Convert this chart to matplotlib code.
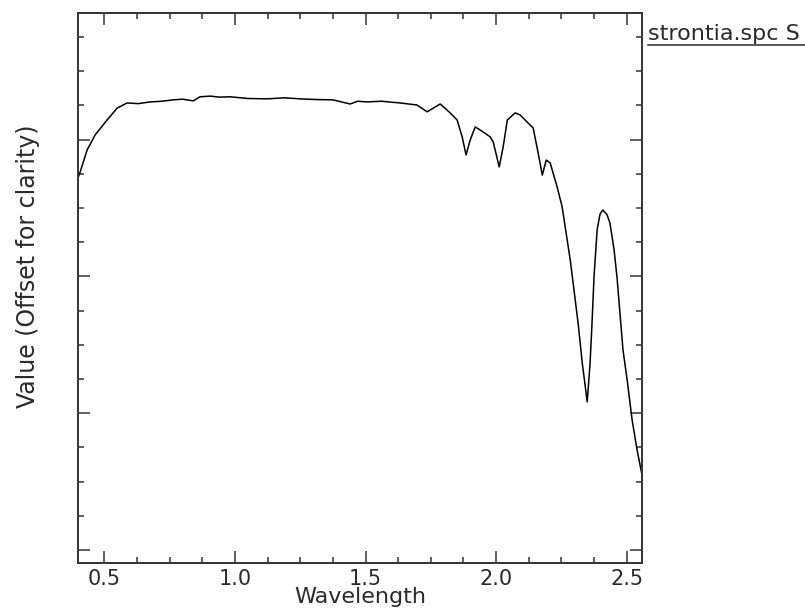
import matplotlib
matplotlib.use("Agg")
import matplotlib.pyplot as plt
from matplotlib.lines import Line2D
from matplotlib.ticker import MultipleLocator, NullFormatter, FormatStrFormatter

# spectrum (wavelength, offset value)
wavelength = [
    0.400, 0.407, 0.434, 0.464, 0.510, 0.549, 0.587, 0.630, 0.675, 0.720,
    0.763, 0.800, 0.840, 0.866, 0.905, 0.940, 0.981, 1.050, 1.123, 1.190,
    1.249, 1.310, 1.375, 1.441, 1.470, 1.506, 1.560, 1.632, 1.697, 1.736,
    1.786, 1.824, 1.851, 1.870, 1.885, 1.901, 1.920, 1.951, 1.977, 1.989,
    2.012, 2.027, 2.043, 2.073, 2.092, 2.119, 2.142, 2.161, 2.177, 2.192,
    2.207, 2.234, 2.253, 2.284, 2.314, 2.330, 2.349, 2.360, 2.368, 2.375,
    2.387, 2.398, 2.409, 2.425, 2.436, 2.452, 2.463, 2.486, 2.502, 2.521,
    2.540, 2.559,
]
value = [
    10.9, 11.05, 11.70, 12.13, 12.57, 12.92, 13.07, 13.05, 13.10, 13.12,
    13.16, 13.18, 13.13, 13.25, 13.27, 13.24, 13.25, 13.20, 13.19, 13.22,
    13.19, 13.17, 13.16, 13.04, 13.12, 13.10, 13.12, 13.07, 13.01, 12.81,
    13.04, 12.78, 12.57, 12.08, 11.55, 11.99, 12.37, 12.22, 12.08, 11.93,
    11.20, 11.78, 12.57, 12.78, 12.72, 12.51, 12.34, 11.61, 10.96, 11.40,
    11.32, 10.61, 10.03, 8.48, 6.64, 5.47, 4.33, 5.47, 6.73, 7.98,
    9.36, 9.82, 9.94, 9.80, 9.56, 8.77, 7.98, 5.85, 4.97, 3.80,
    2.92, 2.19,
]

legend_name = "strontia.spc S"

fig = plt.figure(figsize=(8.05, 6.13), dpi=100)
ax = fig.add_axes([0.0963, 0.0816, 0.7016, 0.8972])

ax.plot(wavelength, value, color="black", lw=1.1)

ax.set_xlim(0.397, 2.56)
ax.set_ylim(-0.38, 15.70)

ax.xaxis.set_major_locator(MultipleLocator(0.5))
ax.xaxis.set_minor_locator(MultipleLocator(0.125))
ax.xaxis.set_major_formatter(FormatStrFormatter("%.1f"))
ax.yaxis.set_major_locator(MultipleLocator(4))
ax.yaxis.set_minor_locator(MultipleLocator(1))
ax.yaxis.set_major_formatter(NullFormatter())

ax.tick_params(which="both", direction="in", top=True, right=True,
               width=1.1, color="#333333")
ax.tick_params(which="major", length=8.6)
ax.tick_params(which="minor", length=4.3)
ax.tick_params(axis="x", labelsize=15, labelcolor="#2a2a2a", pad=4)

for s in ax.spines.values():
    s.set_linewidth(1.4)
    s.set_color("#333333")

ax.set_xlabel("Wavelength", fontsize=16, color="#2a2a2a", labelpad=-1)
fig.text(28 / 805, 1 - 266 / 613, "Value (Offset for clarity)", rotation=90,
         ha="center", va="center", fontsize=17, color="#2a2a2a")

fig.text(648 / 805, 1 - 40 / 613, legend_name, fontsize=16,
         color="#2a2a2a", ha="left", va="baseline")
fig.add_artist(Line2D([648 / 805, 1.0], [1 - 45 / 613, 1 - 45 / 613],
                      transform=fig.transFigure, color="#2a2a2a", lw=1.1))

plt.savefig("out.png", dpi=100)
plt.close()
